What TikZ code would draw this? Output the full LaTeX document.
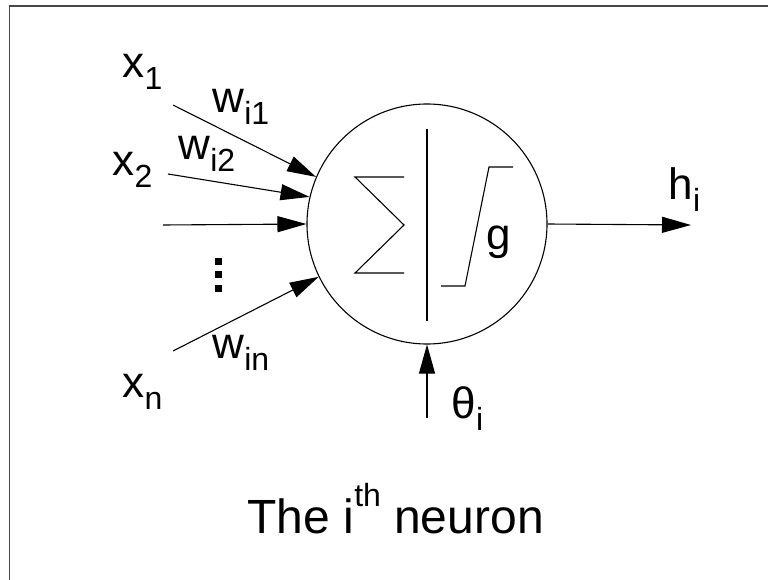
\documentclass[tikz,border=0pt]{standalone}
\usepackage{fontspec}
\setmainfont{Liberation Sans}
\usetikzlibrary{arrows.meta}
% lowered index and raised index in the Arial-like label style
\newcommand\lowidx[1]{\raisebox{-12pt}{\fontsize{32}{32}\selectfont #1}}
\newcommand\highidx[1]{\raisebox{0.55em}{\fontsize{32}{32}\selectfont #1}}

\begin{document}
\begin{tikzpicture}[x=1pt, y=-1pt, line width=1.1pt,
  lbl/.style={anchor=base west, inner sep=0pt, font=\fontsize{44}{44}\selectfont},
  wire/.style={-{Triangle[length=29pt,width=16pt]}},
  frameline/.style={line width=1.6pt, draw=black!72},
]
\useasboundingbox (0,0) rectangle (768,580);
\clip (0,0) rectangle (768,580);

% page frame (only its left and top edges fall inside the picture)
\draw[frameline] (9.5,600) -- (9.5,6) -- (800,6);

% the neuron body
\node[circle, draw, minimum size=240pt, inner sep=0pt] (neuron) at (427,224) {};

% summation sign, separator and squashing function
\draw (404,177) -- (355,177) -- (404,225) -- (355,273) -- (404,273);
\draw (427,129) -- (427,321);
\draw (441,286) -- (465,286) -- (489,167) -- (513,167);
\node[lbl] (g) at (486,249) {g};

% inputs
\coordinate (in1) at (173,105);
\coordinate (in2) at (168,174);
\coordinate (in3) at (163,225);
\coordinate (inn) at (173,351);
\draw[wire] (in1) -- (neuron.157);
\draw[wire] (in2) -- (neuron.167);
\draw[wire] (in3) -- (neuron.180);
\draw[wire] (inn) -- (neuron.206);

\node[lbl] (x1) at (122,78) {x\lowidx{1}};
\node[lbl] (x2) at (112,176) {x\lowidx{2}};
\node[lbl] (xn) at (122,397) {x\lowidx{n}};
\node[lbl] (w1) at (212,113) {w\lowidx{i1}};
\node[lbl] (w2) at (178,160) {w\lowidx{i2}};
\node[lbl] (wn) at (212,358) {w\lowidx{in}};

% vertical ellipsis between the inputs
\fill (215,258) rectangle +(7,7);
\fill (215,271) rectangle +(7,7);
\fill (215,285) rectangle +(7,7);

% output
\coordinate (out) at (691,225);
\draw[wire] (neuron.east) -- (out);
\node[lbl] (h) at (668,200) {h\lowidx{i}};

% threshold
\coordinate (bias) at (427,418);
\draw[wire] (bias) -- (neuron.south);
\node[lbl] (theta) at (451,418) {θ\lowidx{i}};

% caption
\node[anchor=base west, inner sep=0pt, font=\fontsize{48}{48}\selectfont] (caption) at (247,533) {The i\highidx{th} neuron};
\end{tikzpicture}
\end{document}
